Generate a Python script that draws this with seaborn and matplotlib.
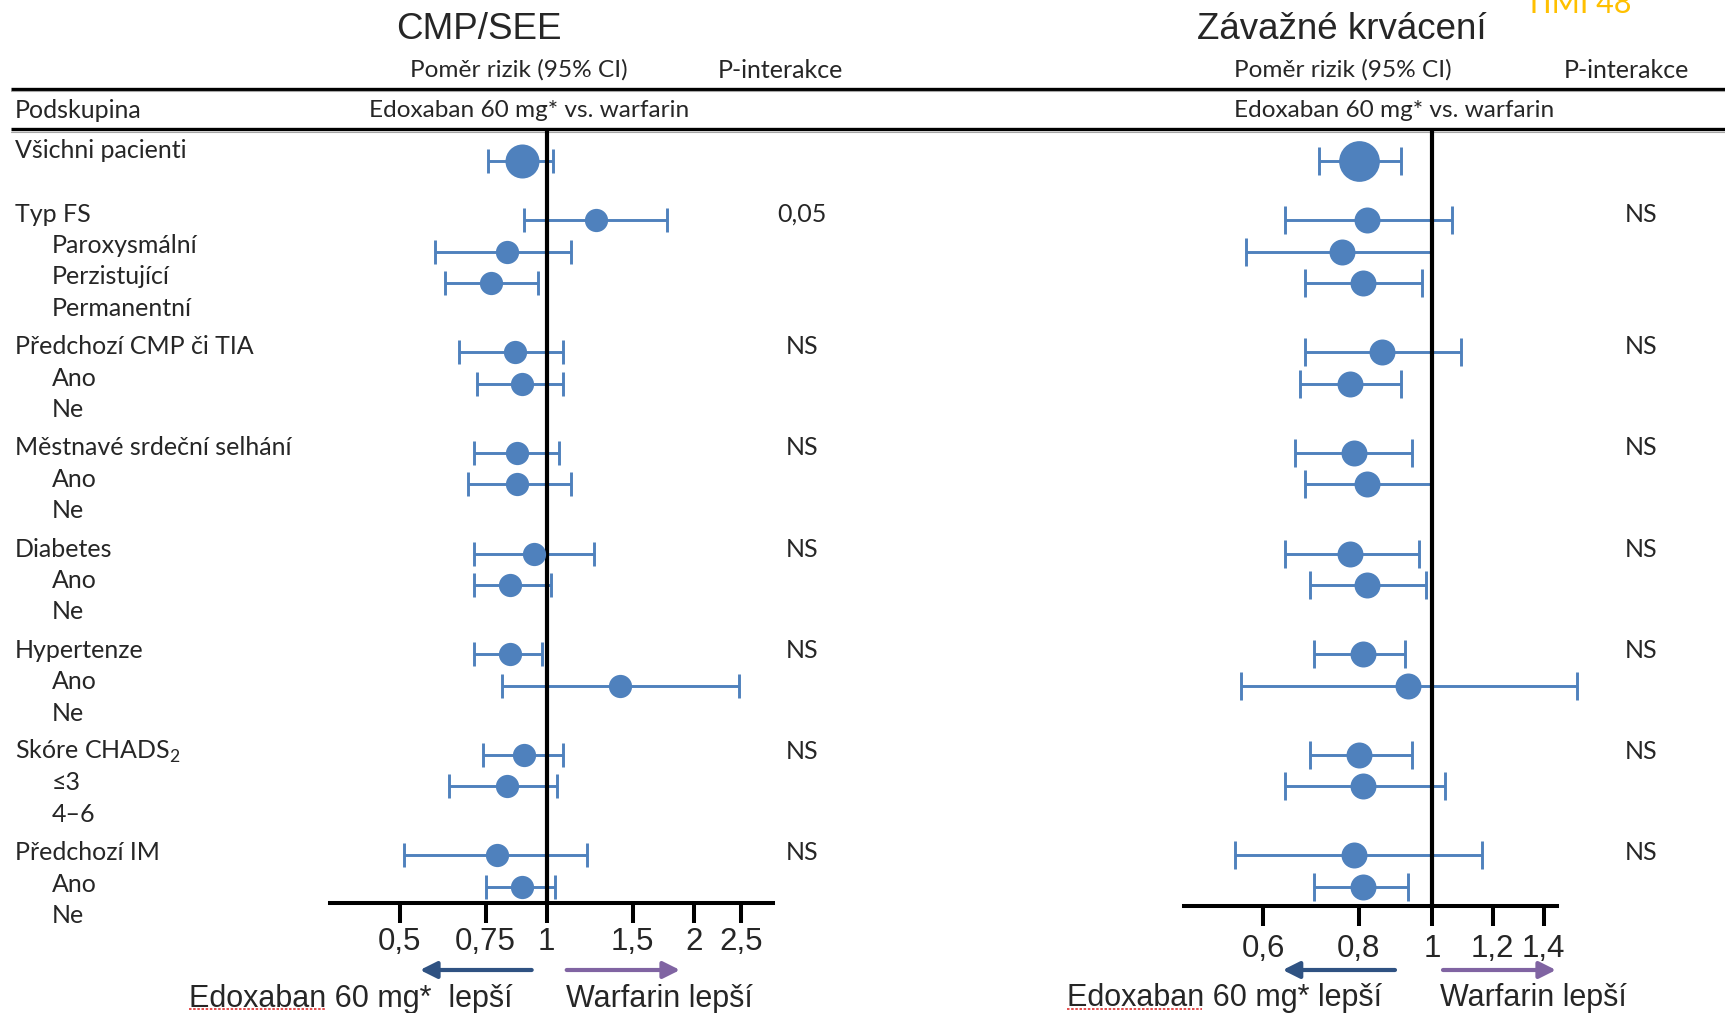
import numpy as np
import pandas as pd
import matplotlib
matplotlib.use('Agg')
import matplotlib.pyplot as plt
from matplotlib.ticker import NullLocator
import seaborn as sns

# --- data -------------------------------------------------------------
overall_label = 'Všichni pacienti'
group_labels = ['Typ FS', 'Předchozí CMP či TIA', 'Městnavé srdeční selhání',
                'Diabetes', 'Hypertenze', 'Skóre CHADS$_\\mathregular{2}$',
                'Předchozí IM']
sub_labels = [['Paroxysmální', 'Perzistující', 'Permanentní'],
              ['Ano', 'Ne'], ['Ano', 'Ne'], ['Ano', 'Ne'], ['Ano', 'Ne'],
              ['≤3', '4–6'], ['Ano', 'Ne']]

# stroke / SEE (overall first, then subgroups in order)
cmp_hr = [0.89, 1.26, 0.83, 0.77, 0.86, 0.89, 0.87, 0.87, 0.94, 0.84, 0.84, 1.41, 0.90, 0.83, 0.79, 0.89]
cmp_lo = [0.76, 0.90, 0.59, 0.62, 0.66, 0.72, 0.71, 0.69, 0.71, 0.71, 0.71, 0.81, 0.74, 0.63, 0.51, 0.75]
cmp_hi = [1.03, 1.76, 1.12, 0.96, 1.08, 1.08, 1.06, 1.12, 1.25, 1.02, 0.98, 2.48, 1.08, 1.05, 1.21, 1.04]
cmp_p = ['0,05', 'NS', 'NS', 'NS', 'NS', 'NS', 'NS']

# major bleeding
bleed_hr = [0.80, 0.82, 0.76, 0.81, 0.86, 0.78, 0.79, 0.82, 0.78, 0.82, 0.81, 0.93, 0.80, 0.81, 0.79, 0.81]
bleed_lo = [0.71, 0.64, 0.57, 0.68, 0.68, 0.67, 0.66, 0.68, 0.64, 0.69, 0.70, 0.56, 0.69, 0.64, 0.55, 0.70]
bleed_hi = [0.91, 1.06, 1.00, 0.97, 1.09, 0.91, 0.94, 1.00, 0.96, 0.98, 0.92, 1.55, 0.94, 1.04, 1.16, 0.93]
bleed_p = ['NS', 'NS', 'NS', 'NS', 'NS', 'NS', 'NS']

cmp_ticks = [0.5, 0.75, 1, 1.5, 2, 2.5]
cmp_tick_labels = ['0,5', '0,75', '1', '1,5', '2', '2,5']
bleed_ticks = [0.6, 0.8, 1, 1.2, 1.4]
bleed_tick_labels = ['0,6', '0,8', '1', '1,2', '1,4']

# --- style --------------------------------------------------------------
sns.set_style('white')
plt.rcParams['font.family'] = ['Lato', 'DejaVu Sans']
plt.rcParams['mathtext.fontset'] = 'custom'
plt.rcParams['mathtext.rm'] = 'Lato'
BLUE = '#4F81BD'
ARIAL = 'Liberation Sans'
W, H = 1725, 1013

fig = plt.figure(figsize=(W / 100, H / 100), dpi=100)
ax_txt = fig.add_axes([0, 0, 1, 1], zorder=0)
ax_txt.set_xlim(0, W)
ax_txt.set_ylim(H, 0)
ax_txt.axis('off')

# row layout (pixel rows shared by all axes)
row_step, group_gap, y_first = 31.4, 7, 214
rows = [(overall_label, 15, 150)]
head_y = []
est_y = [161]
n = 0
for g, (head, subs) in enumerate(zip(group_labels, sub_labels)):
    y = y_first + row_step * n + group_gap * g
    rows.append((head, 15, y))
    head_y.append(y)
    n += 1
    for s in subs:
        y = y_first + row_step * n + group_gap * g
        rows.append((s, 52, y))
        est_y.append(y - 25 - 0.6 * g)
        n += 1

for txt, x, y in rows:
    ax_txt.text(x, y, txt, fontsize=18, ha='left', va='center')


def forest(rect, hr, lo, hi, ticks, tick_labels, xlim, big, small, cap, pad):
    left, right, top, bottom = rect
    ax = fig.add_axes([left / W, (H - bottom) / H, (right - left) / W, (bottom - top) / H],
                      zorder=1)
    ax.patch.set_alpha(0)
    ax.set_xscale('log')
    df = pd.DataFrame({'hr': hr, 'lo': lo, 'hi': hi, 'y': est_y})
    err = np.vstack([df.hr - df.lo, df.hi - df.hr])
    eb = ax.errorbar(df.hr, df.y, xerr=err, fmt='none', ecolor=BLUE, elinewidth=2.1,
                     capsize=cap, capthick=2.1, zorder=2)
    for art in eb.get_children():
        art.set_clip_on(False)
    sns.scatterplot(data=df.iloc[:1], x='hr', y='y', s=big, color=BLUE, linewidth=0,
                    ax=ax, zorder=4, clip_on=False, legend=False)
    sns.scatterplot(data=df.iloc[1:], x='hr', y='y', s=small, color=BLUE, linewidth=0,
                    ax=ax, zorder=4, clip_on=False, legend=False)
    ax.axvline(1, color='black', lw=3, zorder=3)
    ax.set_xlim(xlim)
    ax.set_ylim(bottom, top)
    ax.set_xticks(ticks, labels=tick_labels, fontfamily=ARIAL, fontsize=22.5)
    ax.xaxis.set_minor_locator(NullLocator())
    ax.set_yticks([])
    ax.set_xlabel('')
    ax.set_ylabel('')
    for side in ['left', 'right', 'top']:
        ax.spines[side].set_visible(False)
    ax.spines['bottom'].set_linewidth(2.9)
    ax.spines['bottom'].set_color('black')
    ax.tick_params(axis='x', length=14.4, width=2.9, direction='out', pad=pad,
                   color='black', bottom=True)
    return ax


ax_l = forest((330, 773, 130, 903), cmp_hr, cmp_lo, cmp_hi, cmp_ticks, cmp_tick_labels,
              (0.360, 2.908), 600, 280, 8.6, 3)
ax_r = forest((1184, 1556.7, 130, 906), bleed_hr, bleed_lo, bleed_hi, bleed_ticks,
              bleed_tick_labels, (0.472, 1.456), 860, 350, 10.4, 5.5)

# p-interaction values
for y, pl, pr in zip(head_y, cmp_p, bleed_p):
    ax_txt.text(802, y, pl, fontsize=18, ha='center', va='center')
    ax_txt.text(1641, y, pr, fontsize=18, ha='center', va='center')

# header rules
for yr in [88.5, 129]:
    ax_txt.plot([11, W], [yr, yr], color='black', lw=2.4, solid_capstyle='butt')
    ax_txt.plot([11, W], [yr + 2.5, yr + 2.5], color='#a6a6a6', lw=0.8)

# titles and column headers
ax_txt.text(479, 29, 'CMP/SEE', fontsize=26.5, family=ARIAL, ha='center', va='center')
ax_txt.text(1342, 29, 'Závažné krvácení', fontsize=26.5, family=ARIAL, ha='center', va='center')
ax_txt.text(1578, 13, 'TIMI 48', fontsize=22, color='#FFC000', ha='center', va='baseline')
for cx in [519, 1343]:
    ax_txt.text(cx, 70, 'Poměr rizik (95% CI)', fontsize=17.6, ha='center', va='center')
for cx in [780, 1626]:
    ax_txt.text(cx, 70, 'P-interakce', fontsize=18, ha='center', va='center')
ax_txt.text(15, 110, 'Podskupina', fontsize=18, ha='left', va='center')
for cx in [529, 1394]:
    ax_txt.text(cx, 110, 'Edoxaban 60 mg* vs. warfarin', fontsize=17.6, ha='center', va='center')

# direction arrows and captions
arrow_kw = dict(arrowstyle='-|>,head_length=0.5,head_width=0.25', lw=3,
                mutation_scale=20, shrinkA=0, shrinkB=0)
for tail, tip, col in [(531.7, 420, '#2F5282'), (566.7, 680, '#8064A2'),
                       (1395, 1282.7, '#2F5282'), (1443, 1556, '#8064A2')]:
    ax_txt.annotate('', xy=(tip, 970), xytext=(tail, 970),
                    arrowprops=dict(color=col, **arrow_kw))
ax_txt.text(189, 999, 'Edoxaban 60 mg*  lepší', fontsize=22, family=ARIAL, ha='left', va='center')
ax_txt.text(566, 999, 'Warfarin lepší', fontsize=22, family=ARIAL, ha='left', va='center')
ax_txt.text(1067, 998, 'Edoxaban 60 mg* lepší', fontsize=22, family=ARIAL, ha='left', va='center')
ax_txt.text(1440, 998, 'Warfarin lepší', fontsize=22, family=ARIAL, ha='left', va='center')
for x0, x1 in [(189, 325), (1067, 1202)]:
    ax_txt.plot([x0, x1], [1009, 1009], color='#e03030', lw=1.2, ls=(0, (1.5, 1)))

fig.savefig('out.png', dpi=100)
